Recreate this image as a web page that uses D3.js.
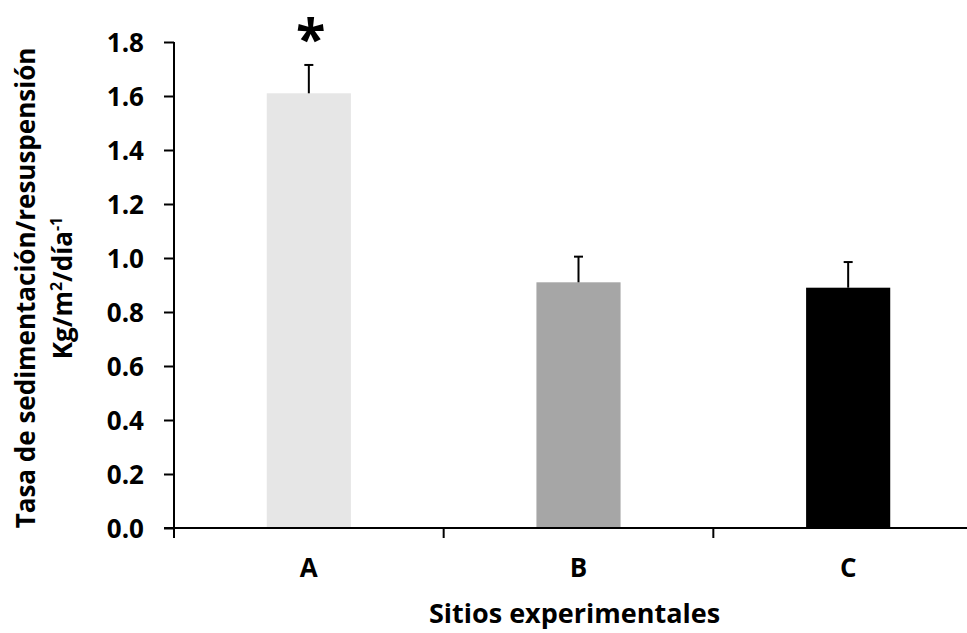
<!DOCTYPE html>
<html>
<head>
<meta charset="utf-8">
<script src="https://cdn.jsdelivr.net/npm/d3@7"></script>
<style>
  html, body { margin: 0; padding: 0; background: #fff; }
  svg { display: block; }
  text { font-family: "Open Sans", Lato, sans-serif; font-weight: bold; fill: #000; }
</style>
</head>
<body>
<svg id="chart" width="967" height="633"></svg>
<script>
// Sedimentation / resuspension rate per experimental site
const sites = ["A", "B", "C"];
const rates = [1.61, 0.91, 0.89];
const errors = [0.105, 0.095, 0.095];
const barColors = ["#e6e6e6", "#a6a6a6", "#000000"];
const significant = [true, false, false];
const yTicks = [0, 0.2, 0.4, 0.6, 0.8, 1.0, 1.2, 1.4, 1.6, 1.8];

const svg = d3.select("#chart");
const plotLeft = 174, plotRight = 983, plotTop = 42, plotBottom = 528;

const x = d3.scaleBand().domain(sites).range([plotLeft, plotRight]).paddingInner(0).paddingOuter(0);
const y = d3.scaleLinear().domain([0, 1.8]).range([plotBottom, plotTop]);
const barW = x.bandwidth() * 0.312;

// bars
svg.append("g").selectAll("rect")
  .data(sites)
  .join("rect")
  .attr("x", (d) => x(d) + x.bandwidth() / 2 - barW / 2)
  .attr("y", (d, i) => y(rates[i]))
  .attr("width", barW)
  .attr("height", (d, i) => y(0) - y(rates[i]))
  .attr("fill", (d, i) => barColors[i]);

// upper error bars
const eb = svg.append("g").attr("stroke", "#000").attr("stroke-width", 2);
sites.forEach((s, i) => {
  const cx = x(s) + x.bandwidth() / 2;
  eb.append("line").attr("x1", cx).attr("x2", cx)
    .attr("y1", y(rates[i])).attr("y2", y(rates[i] + errors[i]));
  eb.append("line").attr("x1", cx - 4.5).attr("x2", cx + 4.5)
    .attr("y1", y(rates[i] + errors[i])).attr("y2", y(rates[i] + errors[i]));
});

// significance marker
svg.append("g").selectAll("text")
  .data(sites.filter((d, i) => significant[i]))
  .join("text")
  .attr("x", (d) => x(d) + x.bandwidth() / 2 + 2)
  .attr("y", 58)
  .attr("text-anchor", "middle")
  .style("font-size", "54px")
  .text("*");

// y axis
const yAxis = svg.append("g")
  .attr("transform", `translate(${plotLeft},0)`)
  .call(d3.axisLeft(y).tickValues(yTicks).tickFormat(d3.format(".1f")).tickSize(10).tickPadding(20));
yAxis.select(".domain").attr("stroke", "#000").attr("stroke-width", 2).attr("d", `M0,${plotTop}H0V${plotBottom}`);
yAxis.selectAll(".tick line").attr("stroke", "#000").attr("stroke-width", 2);
yAxis.selectAll(".tick text").style("font-size", "26px").attr("dy", "0.36em");

// x axis
const xAxis = svg.append("g")
  .attr("transform", `translate(0,${plotBottom})`)
  .call(d3.axisBottom(x).tickSize(0).tickPadding(31));
xAxis.select(".domain").attr("stroke", "#000").attr("stroke-width", 2).attr("d", `M${plotLeft - 10},0H${plotRight}`);
xAxis.selectAll(".tick text").style("font-size", "26px");
// category separators
svg.append("g").attr("stroke", "#000").attr("stroke-width", 2)
  .selectAll("line")
  .data(sites)
  .join("line")
  .attr("x1", (d) => x(d)).attr("x2", (d) => x(d))
  .attr("y1", plotBottom).attr("y2", plotBottom + 10);

// axis titles
svg.append("text")
  .attr("x", (plotLeft + plotRight) / 2 - 4)
  .attr("y", 623)
  .attr("text-anchor", "middle")
  .style("font-size", "27px")
  .text("Sitios experimentales");

const yTitle = svg.append("text")
  .attr("transform", "translate(0,288) rotate(-90)")
  .attr("text-anchor", "middle")
  .style("font-size", "26px");
yTitle.append("tspan").attr("x", 0).attr("y", 35).text("Tasa de sedimentación/resuspensión");
yTitle.append("tspan").attr("x", 0).attr("y", 72).text("Kg/m");
yTitle.append("tspan").attr("dy", -10).style("font-size", "16px").text("2");
yTitle.append("tspan").attr("dy", 10).text("/día");
yTitle.append("tspan").attr("dy", -10).style("font-size", "16px").text("-1");
</script>
</body>
</html>
